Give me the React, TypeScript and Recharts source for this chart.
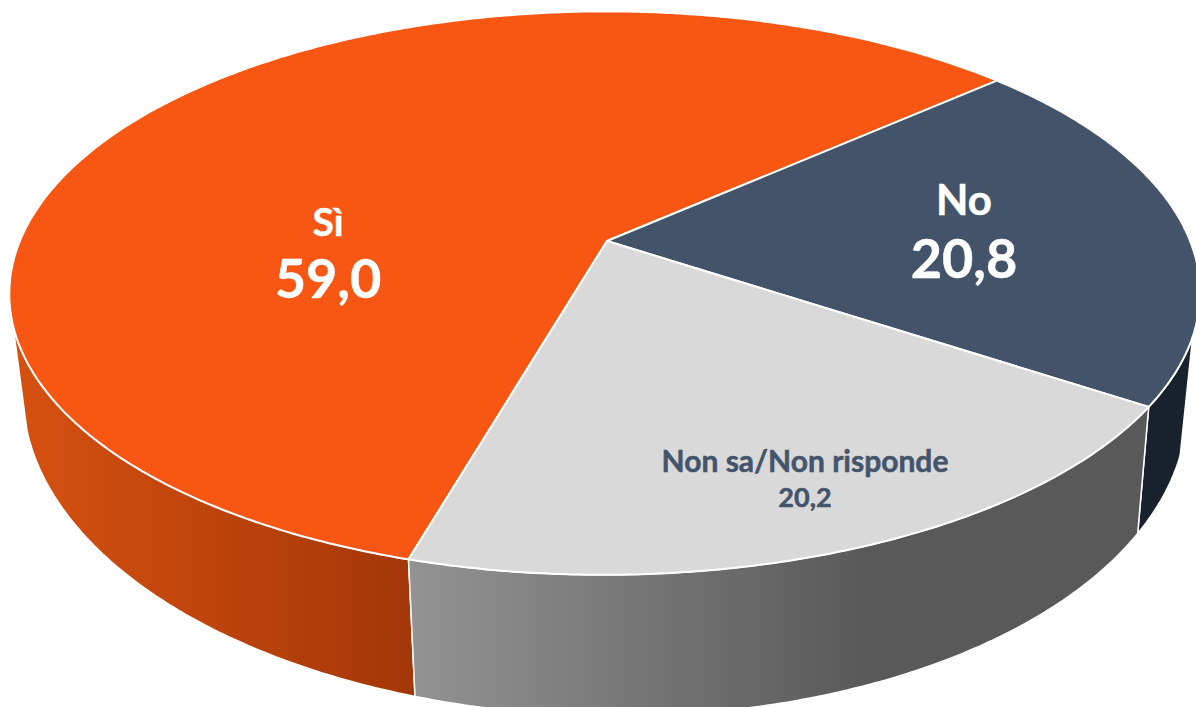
import { PieChart, Pie } from 'recharts';

const categories = ['Sì', 'No', 'Non sa/Non risponde'];
const values = [59.0, 20.8, 20.2];
const valueLabels = ['59,0', '20,8', '20,2'];
const topColors = ['#f85613', '#43536a', '#d9d9d9'];
const wallStops = [
  [['0', '#d65110'], ['1', '#a33708']],
  [['0', '#19212c'], ['1', '#19212c']],
  [['0', '#939393'], ['0.62', '#595959'], ['1', '#595959']],
];

// label layout: centre x, name baseline, value baseline, sizes, colour
const labelX = [328, 964, 805];
const nameY = [236, 215, 472];
const valueY = [298, 278, 507];
const nameSize = [39, 42, 30];
const valueSize = [54, 54, 27];
const labelColors = ['#ffffff', '#ffffff', '#44546a'];

const rad = Math.PI / 180;
const PERSP = 0.185;
const SQUASH = 0.465;
const SKEW = 12;
const TILT = 5;

// top rim of the disc, perspective view of a circle
function topPoint(deg: number, cx: number, cy: number, r: number) {
  const u = Math.cos(deg * rad);
  const v = Math.sin(deg * rad);
  const den = 1 + PERSP * v;
  return [cx + (r * u + SKEW * v) / den, cy + (TILT * u - r * SQUASH * v) / den];
}

function bottomPoint(deg: number, cx: number, cy: number, r: number) {
  const u = Math.cos(deg * rad);
  const v = Math.sin(deg * rad);
  const den = 1 + PERSP * v;
  return [
    cx + ((r - 13) * u + 10 * v) / den,
    cy + 100.5 + (-305 * v + 12 * u) / den,
  ];
}

function arcAngles(start: number, end: number) {
  const n = Math.ceil(Math.abs(end - start) * 2);
  const out: number[] = [];
  for (let i = 0; i <= n; i++) out.push(start + ((end - start) * i) / n);
  return out;
}

const toPath = (pts: number[][]) => 'M' + pts.map((p) => p[0].toFixed(1) + ' ' + p[1].toFixed(1)).join('L');

function Slice(props: any) {
  const { cx, cy, outerRadius, startAngle, endAngle, index } = props;
  const angles = arcAngles(startAngle, endAngle);
  const rim = angles.map((a) => topPoint(a, cx, cy, outerRadius));
  // only the front of the wall shows
  const front = angles.filter((a) => Math.sin(a * rad) <= Math.sin(-18 * rad));
  const wallTop = front.map((a) => topPoint(a, cx, cy, outerRadius));
  const wallBottom = front.map((a) => bottomPoint(a, cx, cy, outerRadius)).reverse();
  return (
    <g>
      <defs>
        <linearGradient id={'wall' + index} x1="0" y1="0" x2="1" y2="0">
          {wallStops[index].map((s) => (
            <stop key={s[0]} offset={s[0]} stopColor={s[1]} />
          ))}
        </linearGradient>
      </defs>
      {front.length > 1 && (
        <path
          d={toPath([...wallTop, ...wallBottom]) + 'Z'}
          fill={'url(#wall' + index + ')'}
          stroke="#fff"
          strokeWidth={1.5}
        />
      )}
      <path d={toPath([[cx, cy], ...rim]) + 'Z'} fill={topColors[index]} stroke="#fff" strokeWidth={2} strokeLinejoin="round" />
    </g>
  );
}

function SliceLabel(props: any) {
  const i = props.index;
  return (
    <text
      textAnchor="middle"
      fontFamily="Lato"
      fontWeight={700}
      fill={labelColors[i]}
      stroke={labelColors[i]}
      strokeWidth={0.5}
    >
      <tspan x={labelX[i]} y={nameY[i]} fontSize={nameSize[i]}>{categories[i]}</tspan>
      <tspan x={labelX[i]} y={valueY[i]} fontSize={valueSize[i]}>{valueLabels[i]}</tspan>
    </text>
  );
}

const pieData = categories.map((name, i) => ({ name, value: values[i] }));

export default function App() {
  return (
    <div style={{ position: 'absolute', left: 0, top: 0, width: 1196, height: 707, background: '#fff' }}>
      <PieChart width={1196} height={707} margin={{ top: 0, right: 0, bottom: 0, left: 0 }}>
        <Pie
          data={pieData}
          dataKey="value"
          nameKey="name"
          cx={607}
          cy={241}
          innerRadius={0}
          outerRadius={585}
          startAngle={255}
          endAngle={-105}
          shape={Slice}
          label={SliceLabel}
          labelLine={false}
          isAnimationActive={false}
        />
      </PieChart>
    </div>
  );
}
